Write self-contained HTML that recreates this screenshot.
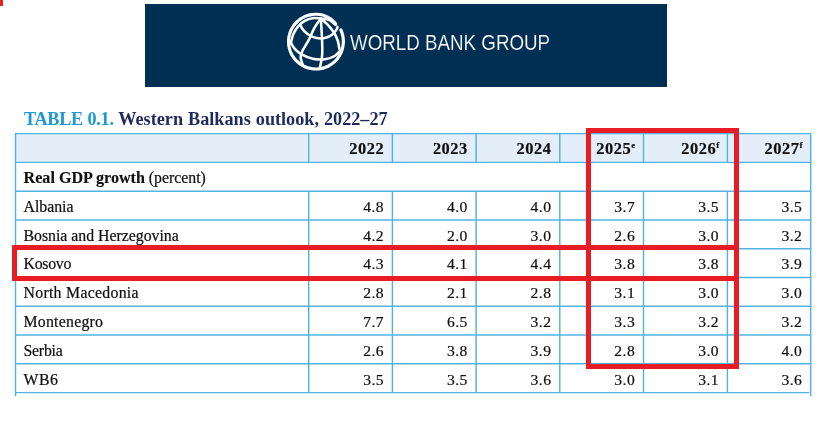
<!DOCTYPE html>
<html><head><meta charset="utf-8"><title>Western Balkans outlook</title>
<style>
html,body{margin:0;padding:0;background:#fff;}
body{width:836px;height:423px;position:relative;overflow:hidden;font-family:"Liberation Serif",serif;color:#111;}
.corner{position:absolute;left:0;top:0;width:3px;height:6px;background:#ed1c24;}
.banner{position:absolute;left:145px;top:4px;width:522px;height:82.5px;background:#002f54;}
.wbg{position:absolute;left:349.7px;top:28.3px;font-family:"Liberation Sans",sans-serif;font-size:22.5px;line-height:30px;color:#fff;white-space:nowrap;transform-origin:0 50%;transform:scaleX(0.8335);-webkit-text-stroke:0.2px #002f54;}
.title{position:absolute;left:24px;top:107px;font-size:18.2px;line-height:24px;font-weight:bold;white-space:nowrap;color:#1f2b5e;word-spacing:0.5px;}
.title span{color:#1c9ad6;letter-spacing:-0.3px;}
.n,.v,.h{position:absolute;height:28.78px;line-height:28.78px;white-space:nowrap;font-size:15.8px;}
.n,.v{-webkit-text-stroke:0.22px #111;}
.n b{-webkit-text-stroke:0.15px #111;}
.h{-webkit-text-stroke:0.2px #111;}
.v{text-align:right;font-size:15.6px;letter-spacing:0.45px;margin-right:-0.45px;}
.n b{font-size:16.1px;}
.h{font-weight:bold;font-size:16.4px;text-align:right;letter-spacing:0.55px;margin-right:-0.55px;}
.h sup{font-size:9px;line-height:0;vertical-align:6.5px;letter-spacing:0;}
svg.grid{position:absolute;left:0;top:0;}
svg.grid line{stroke:#52b3e4;stroke-width:1.45;}
.red{position:absolute;box-sizing:border-box;border:5px solid #e81c24;}
</style></head><body>
<div class="corner"></div>
<div class="banner"></div>
<svg class="globe" style="position:absolute;left:284px;top:10px" width="64" height="64" viewBox="0 0 423 423" fill="none" stroke="#fff" stroke-linecap="round" stroke-linejoin="round">
<path d="M375.9 132.1 C377.1 134.9 380.7 143.2 382.6 149.0 C384.6 154.7 386.2 160.5 387.6 166.4 C389.0 172.3 390.0 178.2 390.8 184.2 C391.6 190.2 392.0 196.2 392.2 202.2 C392.4 208.3 392.2 214.3 391.8 220.3 C391.4 226.3 390.6 232.3 389.6 238.3 C388.6 244.2 387.4 250.1 385.8 255.9 C384.3 261.7 382.4 267.5 380.3 273.1 C378.2 278.7 375.7 284.2 373.1 289.6 C370.4 295.0 367.4 300.3 364.2 305.4 C361.0 310.4 357.5 315.4 353.9 320.1 C350.2 324.9 346.2 329.5 342.1 333.8 C337.9 338.2 333.5 342.3 329.0 346.3 C324.4 350.2 319.7 353.9 314.7 357.3 C309.8 360.8 304.7 364.0 299.4 366.9 C294.2 369.9 288.8 372.5 283.3 374.9 C277.8 377.3 272.1 379.5 266.4 381.3 C260.7 383.2 254.8 384.7 248.9 386.0 C243.1 387.2 237.1 388.2 231.1 388.9 C225.2 389.5 219.1 389.9 213.1 390.0 C207.1 390.1 201.1 389.8 195.1 389.3 C189.1 388.8 183.1 387.9 177.2 386.8 C171.3 385.7 165.4 384.3 159.6 382.6 C153.9 380.9 148.2 378.9 142.6 376.6 C137.0 374.3 131.6 371.8 126.3 368.9 C120.9 366.1 115.8 363.0 110.7 359.7 C105.7 356.4 100.9 352.8 96.2 349.0 C91.6 345.2 87.1 341.1 82.9 336.8 C78.6 332.6 74.6 328.1 70.8 323.4 C67.0 318.8 63.4 313.9 60.1 308.9 C56.7 303.9 53.7 298.7 50.9 293.4 C48.1 288.1 45.5 282.6 43.3 277.0 C41.0 271.4 39.0 265.7 37.3 260.0 C35.6 254.2 34.2 248.3 33.1 242.4 C32.0 236.5 31.2 230.5 30.7 224.5 C30.2 218.5 29.9 212.5 30.0 206.5 C30.1 200.5 30.5 194.4 31.2 188.5 C31.9 182.5 32.8 176.5 34.1 170.6 C35.4 164.8 37.0 158.9 38.8 153.2 C40.7 147.5 42.8 141.8 45.2 136.3 C47.6 130.8 50.3 125.4 53.3 120.2 C56.2 115.0 59.5 109.8 62.9 104.9 C66.4 100.0 70.1 95.2 74.0 90.7 C77.9 86.1 82.1 81.8 86.5 77.6 C90.8 73.5 95.4 69.6 100.2 65.9 C104.9 62.2 109.9 58.7 115.0 55.6 C120.1 52.4 125.4 49.4 130.8 46.8 C136.1 44.1 141.7 41.7 147.3 39.6 C152.9 37.5 158.7 35.6 164.5 34.1 C170.3 32.5 176.2 31.3 182.2 30.3 C188.1 29.4 194.1 28.7 200.1 28.3 C206.1 28.0 212.2 27.9 218.2 28.1 C224.2 28.4 230.2 28.9 236.1 29.8 C242.1 30.6 248.1 31.6 253.9 33.1 C259.7 34.7 265.3 36.8 270.9 39.1 C276.4 41.3 281.9 43.9 287.2 46.6 C292.4 49.4 297.6 52.5 302.5 55.8 C307.5 59.0 312.3 62.6 316.8 66.3 C321.4 70.0 325.8 74.0 330.0 78.2 C334.1 82.3 339.8 89.1 341.8 91.2" stroke-width="21"/>
<path d="M243.0 56.0 C234.2 55.7 207.2 51.7 190.0 54.0 C172.8 56.3 155.8 61.3 140.0 70.0 C124.2 78.7 108.0 91.3 95.0 106.0 C82.0 120.7 70.2 139.8 62.0 158.0 C53.8 176.2 48.7 205.5 46.0 215.0" stroke-width="17"/>
<path d="M243.0 56.0 C236.2 66.0 214.7 93.3 202.0 116.0 C189.3 138.7 175.3 175.0 167.0 192.0 C158.7 209.0 159.8 204.3 152.0 218.0 C144.2 231.7 127.0 257.8 120.0 274.0 C113.0 290.2 109.3 300.3 110.0 315.0 C110.7 329.7 121.7 354.2 124.0 362.0" stroke-width="17"/>
<path d="M243.0 56.0 C243.8 68.3 246.5 104.2 248.0 130.0 C249.5 155.8 251.3 182.7 252.0 211.0 C252.7 239.3 254.3 272.2 252.0 300.0 C249.7 327.8 240.3 365.0 238.0 378.0" stroke-width="17"/>
<path d="M243.0 56.0 C250.8 63.0 275.2 82.0 290.0 98.0 C304.8 114.0 321.0 134.2 332.0 152.0 C343.0 169.8 350.3 187.3 356.0 205.0 C361.7 222.7 364.3 249.2 366.0 258.0" stroke-width="17"/>
<path d="M243.0 56.0 C252.5 57.7 283.8 59.0 300.0 66.0 C316.2 73.0 333.3 92.7 340.0 98.0" stroke-width="17"/>
<path d="M108.0 98.0 C110.7 103.0 115.3 117.3 124.0 128.0 C132.7 138.7 144.8 152.5 160.0 162.0 C175.2 171.5 195.8 181.3 215.0 185.0 C234.2 188.7 257.2 188.2 275.0 184.0 C292.8 179.8 309.8 169.3 322.0 160.0 C334.2 150.7 342.7 136.0 348.0 128.0 C353.3 120.0 353.0 114.7 354.0 112.0" stroke-width="17"/>
<path d="M44.0 215.0 C48.3 221.7 58.0 241.8 70.0 255.0 C82.0 268.2 96.0 282.8 116.0 294.0 C136.0 305.2 164.3 316.7 190.0 322.0 C215.7 327.3 245.8 329.0 270.0 326.0 C294.2 323.0 317.0 314.7 335.0 304.0 C353.0 293.3 370.8 269.0 378.0 262.0" stroke-width="17"/>
</svg>

<div class="wbg">WORLD BANK GROUP</div>
<div class="title"><span>TABLE 0.1.</span> Western Balkans outlook, 2022–27</div>
<svg class="grid" width="836" height="423" viewBox="0 0 836 423">
<rect x="15.5" y="133.6" width="795.2" height="28.78" fill="#e3eef9"/>
<line x1="15.0" y1="133.60" x2="811.2" y2="133.60"/>
<line x1="15.0" y1="162.38" x2="811.2" y2="162.38"/>
<line x1="15.0" y1="191.16" x2="811.2" y2="191.16"/>
<line x1="15.0" y1="219.94" x2="811.2" y2="219.94"/>
<line x1="15.0" y1="248.72" x2="811.2" y2="248.72"/>
<line x1="15.0" y1="277.50" x2="811.2" y2="277.50"/>
<line x1="15.0" y1="306.28" x2="811.2" y2="306.28"/>
<line x1="15.0" y1="335.06" x2="811.2" y2="335.06"/>
<line x1="15.0" y1="363.84" x2="811.2" y2="363.84"/>
<line x1="15.0" y1="392.62" x2="809.2" y2="392.62"/>
<line x1="15.5" y1="133.6" x2="15.5" y2="396.3"/>
<line x1="810.7" y1="133.6" x2="810.7" y2="396.3"/>
<line x1="308.7" y1="133.6" x2="308.7" y2="162.38"/>
<line x1="308.7" y1="191.16" x2="308.7" y2="392.62"/>
<line x1="392.4" y1="133.6" x2="392.4" y2="162.38"/>
<line x1="392.4" y1="191.16" x2="392.4" y2="392.62"/>
<line x1="476.1" y1="133.6" x2="476.1" y2="162.38"/>
<line x1="476.1" y1="191.16" x2="476.1" y2="392.62"/>
<line x1="559.8" y1="133.6" x2="559.8" y2="162.38"/>
<line x1="559.8" y1="191.16" x2="559.8" y2="392.62"/>
<line x1="643.5" y1="133.6" x2="643.5" y2="162.38"/>
<line x1="643.5" y1="191.16" x2="643.5" y2="392.62"/>
<line x1="727.4" y1="133.6" x2="727.4" y2="162.38"/>
<line x1="727.4" y1="191.16" x2="727.4" y2="392.62"/>
</svg>
<div class="h" style="right:452.4px;top:135.2px">2022</div>
<div class="h" style="right:368.7px;top:135.2px">2023</div>
<div class="h" style="right:285.0px;top:135.2px">2024</div>
<div class="h" style="right:201.3px;top:135.2px">2025<sup>e</sup></div>
<div class="h" style="right:117.4px;top:135.2px">2026<sup>f</sup></div>
<div class="h" style="right:34.1px;top:135.2px">2027<sup>f</sup></div>
<div class="n" style="left:23.6px;top:164.1px"><b>Real GDP growth</b> (percent)</div>
<div class="n" style="left:23.5px;top:192.9px">Albania</div>
<div class="v" style="right:452.4px;top:192.9px">4.8</div>
<div class="v" style="right:368.7px;top:192.9px">4.0</div>
<div class="v" style="right:285.0px;top:192.9px">4.0</div>
<div class="v" style="right:201.3px;top:192.9px">3.7</div>
<div class="v" style="right:117.4px;top:192.9px">3.5</div>
<div class="v" style="right:34.1px;top:192.9px">3.5</div>
<div class="n" style="left:23.5px;top:221.6px">Bosnia and Herzegovina</div>
<div class="v" style="right:452.4px;top:221.6px">4.2</div>
<div class="v" style="right:368.7px;top:221.6px">2.0</div>
<div class="v" style="right:285.0px;top:221.6px">3.0</div>
<div class="v" style="right:201.3px;top:221.6px">2.6</div>
<div class="v" style="right:117.4px;top:221.6px">3.0</div>
<div class="v" style="right:34.1px;top:221.6px">3.2</div>
<div class="n" style="left:23.5px;top:250.4px;letter-spacing:-0.25px">Kosovo</div>
<div class="v" style="right:452.4px;top:250.4px">4.3</div>
<div class="v" style="right:368.7px;top:250.4px">4.1</div>
<div class="v" style="right:285.0px;top:250.4px">4.4</div>
<div class="v" style="right:201.3px;top:250.4px">3.8</div>
<div class="v" style="right:117.4px;top:250.4px">3.8</div>
<div class="v" style="right:34.1px;top:250.4px">3.9</div>
<div class="n" style="left:23.5px;top:279.2px;letter-spacing:0.29px">North Macedonia</div>
<div class="v" style="right:452.4px;top:279.2px">2.8</div>
<div class="v" style="right:368.7px;top:279.2px">2.1</div>
<div class="v" style="right:285.0px;top:279.2px">2.8</div>
<div class="v" style="right:201.3px;top:279.2px">3.1</div>
<div class="v" style="right:117.4px;top:279.2px">3.0</div>
<div class="v" style="right:34.1px;top:279.2px">3.0</div>
<div class="n" style="left:23.5px;top:308.0px;letter-spacing:0.25px">Montenegro</div>
<div class="v" style="right:452.4px;top:308.0px">7.7</div>
<div class="v" style="right:368.7px;top:308.0px">6.5</div>
<div class="v" style="right:285.0px;top:308.0px">3.2</div>
<div class="v" style="right:201.3px;top:308.0px">3.3</div>
<div class="v" style="right:117.4px;top:308.0px">3.2</div>
<div class="v" style="right:34.1px;top:308.0px">3.2</div>
<div class="n" style="left:23.5px;top:336.8px;letter-spacing:-0.22px">Serbia</div>
<div class="v" style="right:452.4px;top:336.8px">2.6</div>
<div class="v" style="right:368.7px;top:336.8px">3.8</div>
<div class="v" style="right:285.0px;top:336.8px">3.9</div>
<div class="v" style="right:201.3px;top:336.8px">2.8</div>
<div class="v" style="right:117.4px;top:336.8px">3.0</div>
<div class="v" style="right:34.1px;top:336.8px">4.0</div>
<div class="n" style="left:23.5px;top:365.5px;letter-spacing:0.5px">WB6</div>
<div class="v" style="right:452.4px;top:365.5px">3.5</div>
<div class="v" style="right:368.7px;top:365.5px">3.5</div>
<div class="v" style="right:285.0px;top:365.5px">3.6</div>
<div class="v" style="right:201.3px;top:365.5px">3.0</div>
<div class="v" style="right:117.4px;top:365.5px">3.1</div>
<div class="v" style="right:34.1px;top:365.5px">3.6</div>
<div class="red" style="left:12px;top:245px;width:727px;height:35.5px"></div>
<div class="red" style="left:585.7px;top:128.3px;width:153.5px;height:241px;border-width:5.3px"></div>
</body></html>
